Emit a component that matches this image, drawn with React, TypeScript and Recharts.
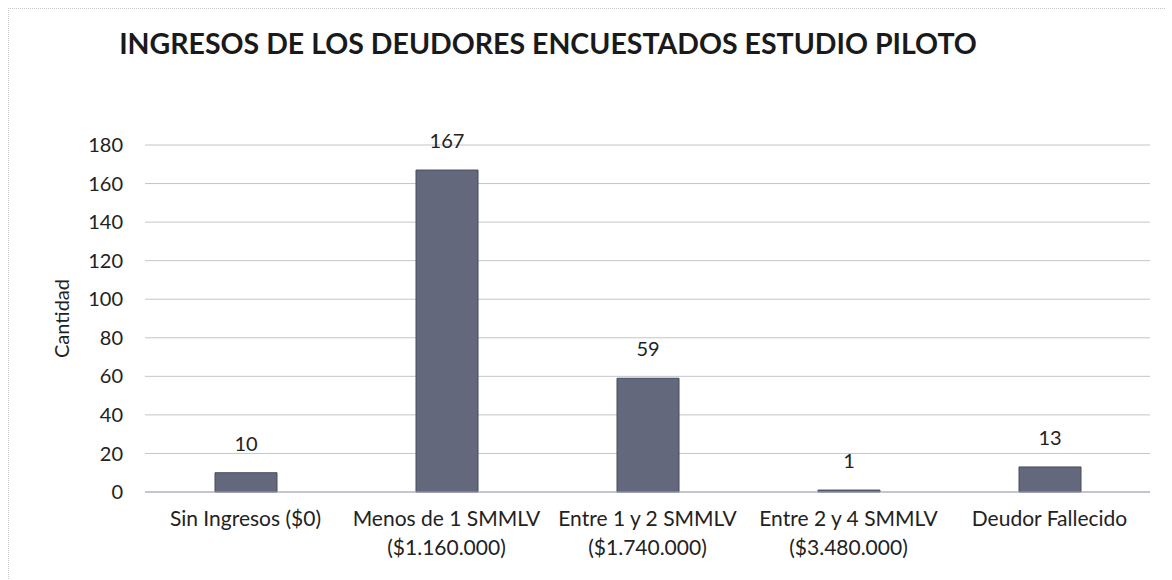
import { BarChart, Bar, XAxis, YAxis, CartesianGrid, LabelList } from "recharts"

const categories = [
  "Sin Ingresos ($0)",
  "Menos de 1 SMMLV",
  "Entre 1 y 2 SMMLV",
  "Entre 2 y 4 SMMLV",
  "Deudor Fallecido",
]
const subLabels = ["", "($1.160.000)", "($1.740.000)", "($3.480.000)", ""]
const counts = [10, 167, 59, 1, 13]
const yTicks = [0, 20, 40, 60, 80, 100, 120, 140, 160, 180]

const data = categories.map((name, i) => ({ name, sub: subLabels[i], cantidad: counts[i] }))

const FONT = "Lato, 'Open Sans', sans-serif"

function CategoryTick(props: any) {
  const { x, y, index } = props
  return (
    <text x={x} y={y} textAnchor="middle" fill="#222" fontSize={21} fontFamily={FONT}>
      <tspan x={x} dy={26}>{categories[index]}</tspan>
      {subLabels[index] && <tspan x={x} dy={29}>{subLabels[index]}</tspan>}
    </text>
  )
}

export default function App() {
  return (
    <div style={{ position: "absolute", left: 0, top: 0, width: 1172, height: 580, background: "#fff" }}>
      <div
        style={{
          position: "absolute",
          left: 8,
          top: 8,
          width: 1156,
          height: 572,
          borderTop: "1px dotted #c8c8c8",
          borderLeft: "1px dotted #c8c8c8",
        }}
      />
      <div
        style={{
          position: "absolute",
          left: 0,
          top: 26,
          width: 1096,
          textAlign: "center",
          fontFamily: FONT,
          fontWeight: 700,
          fontSize: 28.5,
          color: "#1a1a1a",
        }}
      >
        INGRESOS DE LOS DEUDORES ENCUESTADOS ESTUDIO PILOTO
      </div>
      <BarChart
        width={1172}
        height={580}
        data={data}
        margin={{ top: 145, right: 22, bottom: 28, left: 45 }}
        barSize={62}
      >
        <CartesianGrid vertical={false} stroke="#c4c4cc" />
        <XAxis
          dataKey="name"
          height={60}
          axisLine={{ stroke: "#a9a9bd" }}
          tickLine={false}
          interval={0}
          tick={<CategoryTick />}
        />
        <YAxis
          width={100}
          domain={[0, 180]}
          ticks={yTicks}
          axisLine={false}
          tickLine={false}
          tickSize={0}
          tickMargin={22}
          tick={{ fill: "#222", fontSize: 20, fontFamily: FONT }}
          label={{
            value: "Cantidad",
            angle: -90,
            position: "insideLeft",
            offset: 17,
            style: { fill: "#222", fontSize: 20, fontFamily: FONT, textAnchor: "middle" },
          }}
        />
        <Bar dataKey="cantidad" fill="#64687c" stroke="#474a5c" isAnimationActive={false}>
          <LabelList
            dataKey="cantidad"
            position="top"
            offset={22}
            style={{ fill: "#222", fontSize: 20, fontFamily: FONT }}
          />
        </Bar>
      </BarChart>
    </div>
  )
}
